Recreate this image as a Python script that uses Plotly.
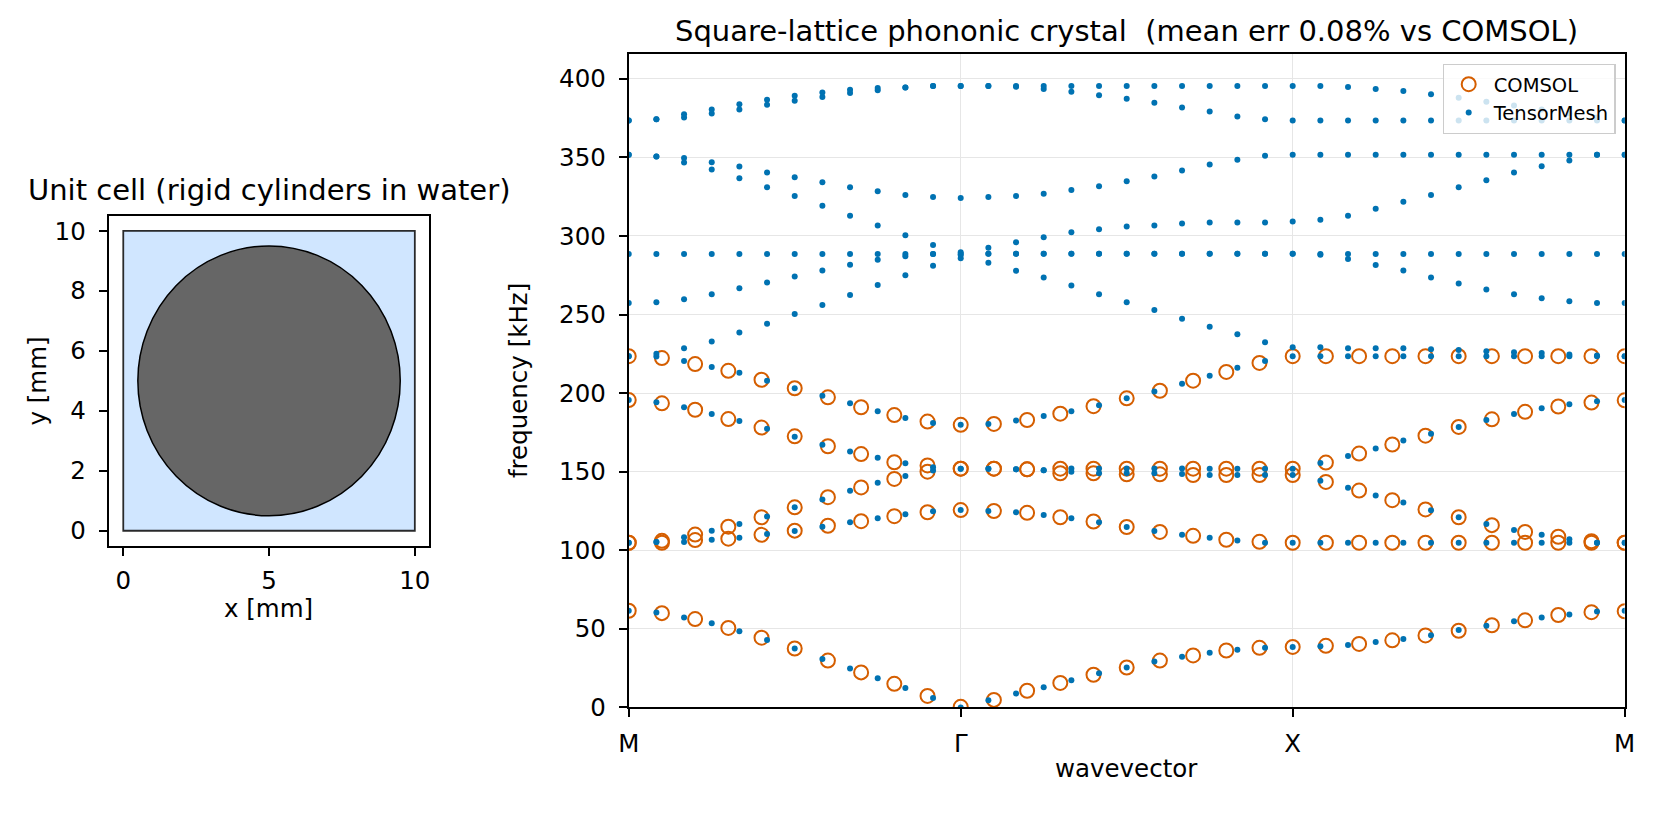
import plotly.graph_objects as go

# ---------------- data ----------------
# k-path tick labels / positions (sample index along M-Γ-X-M)
k_tick_pos = [0, 12, 24, 36]
k_tick_text = ["M", "Γ", "X", "M"]

# TensorMesh k samples (37 points) and COMSOL k samples (31 points)
tm_k = list(range(37))
cs_k = [0.0, 1.2, 2.4, 3.6, 4.8, 6.0, 7.2, 8.4, 9.6, 10.8, 12.0,
        13.2, 14.4, 15.6, 16.8, 18.0, 19.2, 20.4, 21.6, 22.8, 24.0,
        25.2, 26.4, 27.6, 28.8, 30.0, 31.2, 32.4, 33.6, 34.8, 36.0]

# TensorMesh bands [kHz]  (M->Γ 13 pts | Γ->X 12 | X->M 12)
tm_b1 = [61.5, 60.4, 57.3, 53.5, 48.5, 42.9, 37.5, 30.8, 24.8, 18.5, 12.3, 6.0, 0.0,
         4.6, 8.8, 12.9, 17.3, 21.7, 25.4, 29.2, 32.3, 34.8, 36.7, 37.9, 38.5,
         39.0, 39.8, 41.7, 43.5, 46.0, 49.2, 51.9, 54.8, 57.3, 59.2, 61.0, 61.5]
tm_b2 = [104.8, 105.2, 105.2, 106.7, 107.9, 110.4, 112.3, 115.0, 117.9, 120.4, 122.9, 124.8, 125.6,
         125.0, 124.2, 122.5, 120.4, 117.9, 114.8, 112.3, 109.8, 107.9, 106.2, 104.8, 104.8,
         104.8, 104.8, 104.8, 104.8, 104.8, 104.8, 104.8, 104.8, 104.8, 104.8, 104.8, 104.8]
tm_b3 = [104.8, 105.2, 108.3, 112.4, 116.7, 121.5, 127.3, 132.3, 137.9, 142.9, 147.3, 150.8, 151.9,
         151.9, 151.5, 151.0, 150.0, 149.0, 149.0, 149.0, 148.5, 147.9, 147.9, 147.9, 147.9,
         144.2, 139.8, 134.8, 130.4, 125.4, 121.0, 116.7, 112.9, 109.8, 107.0, 104.8, 104.8]
tm_b4 = [195.6, 194.2, 191.0, 186.7, 182.3, 177.3, 172.3, 167.1, 162.9, 158.8, 155.4, 152.9, 151.9,
         151.9, 151.5, 151.0, 152.1, 152.1, 152.1, 152.1, 152.1, 151.9, 151.9, 151.9, 151.9,
         155.6, 160.0, 164.8, 169.8, 174.2, 178.5, 182.9, 186.7, 190.4, 192.9, 194.8, 195.6]
tm_b5 = [223.5, 223.3, 220.4, 216.7, 212.9, 207.9, 203.1, 198.3, 193.5, 188.5, 184.2, 181.0, 179.8,
         180.4, 182.5, 185.4, 188.5, 192.3, 196.7, 201.0, 206.0, 211.0, 216.2, 220.4, 223.5,
         223.5, 223.5, 223.5, 223.5, 223.5, 223.5, 223.5, 223.5, 223.5, 223.5, 223.5, 223.5]
tm_b6 = [223.5, 225.0, 228.5, 232.9, 238.5, 244.2, 250.4, 256.0, 262.5, 268.8, 275.0, 281.0, 285.8,
         282.9, 277.9, 273.5, 268.5, 262.9, 257.9, 252.9, 247.3, 242.3, 237.5, 232.3, 229.2,
         229.2, 228.5, 228.5, 228.5, 227.9, 227.5, 226.7, 226.0, 225.6, 224.6, 223.9, 223.5]
tm_b7 = [257.3, 257.9, 259.8, 262.9, 266.7, 270.4, 274.2, 278.0, 281.7, 284.8, 287.1, 288.5, 287.9,
         288.7, 288.7, 288.7, 288.7, 288.7, 288.7, 288.7, 288.7, 288.7, 288.7, 288.7, 288.7,
         288.1, 285.4, 281.5, 278.0, 273.5, 269.8, 266.0, 262.9, 260.4, 258.5, 257.3, 257.3]
tm_b8 = [288.5, 288.5, 288.5, 288.5, 288.5, 288.5, 288.5, 288.5, 288.5, 288.5, 288.5, 288.5, 288.5,
         288.7, 288.7, 288.7, 288.7, 288.7, 288.7, 288.7, 288.7, 288.7, 288.7, 288.7, 288.7,
         288.5, 288.5, 288.5, 288.5, 288.5, 288.5, 288.5, 288.5, 288.5, 288.5, 288.5, 288.5]
tm_b9 = [351.7, 350.6, 346.7, 342.3, 336.7, 331.0, 325.4, 319.2, 312.9, 306.7, 300.4, 294.2, 289.6,
         292.5, 296.0, 299.2, 302.3, 304.2, 306.0, 306.7, 307.9, 308.5, 308.5, 308.5, 309.2,
         310.4, 312.9, 317.3, 321.7, 326.0, 331.0, 335.4, 340.4, 344.4, 348.0, 351.7, 351.7]
tm_b10 = [351.7, 350.6, 349.6, 346.9, 344.2, 340.4, 337.3, 334.2, 331.0, 328.5, 326.0, 324.8, 324.2,
          324.8, 325.4, 326.9, 329.2, 331.7, 334.8, 337.9, 341.7, 345.4, 348.5, 351.0, 351.7,
          351.7, 351.7, 351.7, 351.7, 351.7, 351.7, 351.7, 351.7, 351.7, 351.7, 351.7, 351.7]
tm_b11 = [373.5, 374.2, 375.4, 377.9, 380.4, 383.5, 386.0, 388.5, 391.0, 392.7, 394.4, 395.4, 395.4,
          395.4, 395.0, 393.5, 391.7, 389.6, 387.3, 384.8, 381.7, 379.2, 376.0, 374.2, 373.5,
          373.5, 373.5, 373.5, 373.5, 373.5, 373.5, 373.5, 373.5, 373.5, 373.5, 373.5, 373.5]
tm_b12 = [373.5, 374.2, 377.5, 380.4, 383.8, 386.7, 389.2, 391.3, 393.1, 394.2, 394.4, 395.4, 395.4,
          395.4, 395.4, 395.4, 395.4, 395.4, 395.4, 395.4, 395.4, 395.4, 395.4, 395.4, 395.4,
          395.4, 394.8, 393.5, 392.3, 390.2, 387.9, 385.4, 383.1, 380.5, 378.0, 375.4, 373.5]

# COMSOL bands [kHz]  (M->Γ 11 pts | Γ->X 10 | X->M 10)
cs_b1 = [61.5, 60.0, 56.2, 50.6, 44.4, 37.5, 29.8, 22.3, 15.0, 7.3, 0.4,
         4.8, 10.6, 15.6, 20.8, 25.4, 29.8, 33.1, 36.2, 37.9, 38.5,
         39.2, 40.4, 42.7, 45.8, 48.8, 52.3, 55.4, 58.8, 60.6, 61.2]
cs_b2 = [104.8, 104.8, 106.5, 107.4, 109.8, 112.5, 115.6, 118.5, 121.7, 124.2, 125.6,
         125.0, 123.8, 121.0, 118.3, 114.8, 111.7, 109.2, 106.7, 105.4, 104.8,
         104.8, 104.8, 104.8, 104.8, 104.8, 104.8, 104.8, 104.8, 104.8, 104.8]
cs_b3 = [104.8, 106.0, 110.0, 115.0, 121.0, 127.3, 133.8, 140.0, 145.4, 150.0, 151.9,
         151.9, 151.5, 149.0, 149.0, 148.3, 148.3, 147.9, 147.9, 147.9, 147.9,
         143.5, 138.0, 131.9, 126.0, 121.0, 116.0, 111.7, 108.6, 105.8, 104.8]
cs_b4 = [195.6, 193.5, 189.4, 183.5, 178.1, 172.5, 166.2, 161.2, 156.0, 154.0, 151.9,
         151.9, 151.5, 151.9, 151.9, 151.9, 151.9, 151.9, 151.9, 151.9, 151.9,
         155.8, 161.5, 167.3, 172.9, 178.5, 183.3, 188.1, 191.5, 194.0, 195.4]
cs_b5 = [223.5, 222.3, 218.5, 214.2, 208.5, 203.1, 197.3, 191.0, 186.0, 181.9, 179.8,
         180.4, 182.9, 186.9, 191.7, 196.7, 201.5, 207.9, 213.5, 219.2, 223.5,
         223.5, 223.5, 223.5, 223.5, 223.5, 223.5, 223.5, 223.5, 223.5, 223.5]

tm_bands = [tm_b1, tm_b2, tm_b3, tm_b4, tm_b5, tm_b6, tm_b7, tm_b8, tm_b9, tm_b10, tm_b11, tm_b12]
cs_bands = [cs_b1, cs_b2, cs_b3, cs_b4, cs_b5]

# unit cell geometry [mm]
cell_a = 10.0
cyl_center = (5.0, 5.0)
cyl_radius = 4.5
cell_ticks_x = [0, 5, 10]
cell_ticks_y = [0, 2, 4, 6, 8, 10]
freq_ticks = [0, 50, 100, 150, 200, 250, 300, 350, 400]

# ---------------- figure ----------------
W, H = 1664, 814
FONT = "DejaVu Sans"
BLUE = "#0072B2"
ORANGE = "#D55E00"
TICK_FS = 24.5
LABEL_FS = 24.5
TITLE_FS = 29
LEGEND_FS = 19.5

fig = go.Figure()

# invisible trace so the unit-cell axes exist
fig.add_trace(go.Scatter(x=[0, cell_a], y=[0, cell_a], mode="none", showlegend=False,
                         hoverinfo="skip", xaxis="x", yaxis="y"))

cs_x, cs_y = [], []
for b in cs_bands:
    cs_x += cs_k
    cs_y += b
tm_x, tm_y = [], []
for b in tm_bands:
    tm_x += tm_k
    tm_y += b

fig.add_trace(go.Scatter(x=cs_x, y=cs_y, mode="markers", name="COMSOL",
                         marker=dict(symbol="circle-open", size=14, color=ORANGE,
                                     line=dict(width=2, color=ORANGE)),
                         xaxis="x2", yaxis="y2"))
fig.add_trace(go.Scatter(x=tm_x, y=tm_y, mode="markers", name="TensorMesh",
                         marker=dict(symbol="circle", size=6, color=BLUE, line=dict(width=0)),
                         xaxis="x2", yaxis="y2"))

# unit cell shapes
fig.add_shape(type="rect", xref="x", yref="y", x0=0, y0=0, x1=cell_a, y1=cell_a,
              fillcolor="#d0e6ff", line=dict(color="rgba(20,20,20,0.9)", width=1.8), layer="above")
fig.add_shape(type="circle", xref="x", yref="y",
              x0=cyl_center[0] - cyl_radius, x1=cyl_center[0] + cyl_radius,
              y0=cyl_center[1] - cyl_radius, y1=cyl_center[1] + cyl_radius,
              fillcolor="#666666", line=dict(color="black", width=1.5), layer="above")

axis_common = dict(showline=True, linecolor="black", linewidth=2, mirror=True,
                   ticks="outside", ticklen=8, tickwidth=1.8, tickcolor="black",
                   zeroline=False, tickfont=dict(size=TICK_FS, color="black", family=FONT))

L0, R0, T0, B0 = 99, 424, 220, 556
L1, R1, T1, B1 = 626, 1635.3, 55, 720.7

fig.update_layout(
    width=W, height=H, margin=dict(l=0, r=0, t=0, b=0),
    paper_bgcolor="white", plot_bgcolor="white",
    font=dict(family=FONT, color="black"),
    xaxis=dict(domain=[L0 / W, R0 / W], range=[-0.5, 10.5], tickvals=cell_ticks_x,
               showgrid=False, anchor="y", ticklabelstandoff=4, **axis_common),
    yaxis=dict(domain=[1 - B0 / H, 1 - T0 / H], range=[-0.5, 10.5], tickvals=cell_ticks_y,
               showgrid=False, anchor="x", ticklabelstandoff=8, **axis_common),
    xaxis2=dict(domain=[L1 / W, R1 / W], range=[0, 36], tickvals=k_tick_pos, ticktext=k_tick_text,
                showgrid=True, gridcolor="#e6e6e6", gridwidth=1.3, anchor="y2",
                ticklabelstandoff=5, **axis_common),
    yaxis2=dict(domain=[1 - B1 / H, 1 - T1 / H], range=[0, 415.8], tickvals=freq_ticks,
                showgrid=True, gridcolor="#e6e6e6", gridwidth=1.3, anchor="x2",
                ticklabelstandoff=8, **axis_common),
    legend=dict(x=1626 / W, y=1 - 65 / H, xanchor="right", yanchor="top",
                bgcolor="rgba(255,255,255,0.8)", bordercolor="#cccccc", borderwidth=1.2,
                itemwidth=40,
                font=dict(size=LEGEND_FS, family=FONT, color="black")),
    showlegend=True,
)

ann = [
    dict(text="Unit cell (rigid cylinders in water)", x=261 / W, y=1 - 194 / H, size=TITLE_FS),
    dict(text="Square-lattice phononic crystal  (mean err 0.08% vs COMSOL)", x=1130 / W, y=1 - 32 / H, size=TITLE_FS),
    dict(text="x [mm]", x=261 / W, y=1 - 620 / H, size=LABEL_FS),
    dict(text="wavevector", x=1130 / W, y=1 - 783 / H, size=LABEL_FS),
]
for a in ann:
    fig.add_annotation(text=a["text"], x=a["x"], y=a["y"], xref="paper", yref="paper",
                       xanchor="center", yanchor="middle", showarrow=False,
                       font=dict(size=a["size"], family=FONT, color="black"))
fig.add_annotation(text="y [mm]", x=27 / W, y=1 - 388 / H, xref="paper", yref="paper",
                   xanchor="center", yanchor="middle", showarrow=False, textangle=-90,
                   font=dict(size=LABEL_FS, family=FONT, color="black"))
fig.add_annotation(text="frequency [kHz]", x=515 / W, y=1 - 388 / H, xref="paper", yref="paper",
                   xanchor="center", yanchor="middle", showarrow=False, textangle=-90,
                   font=dict(size=LABEL_FS, family=FONT, color="black"))

fig.write_html("out.html")
